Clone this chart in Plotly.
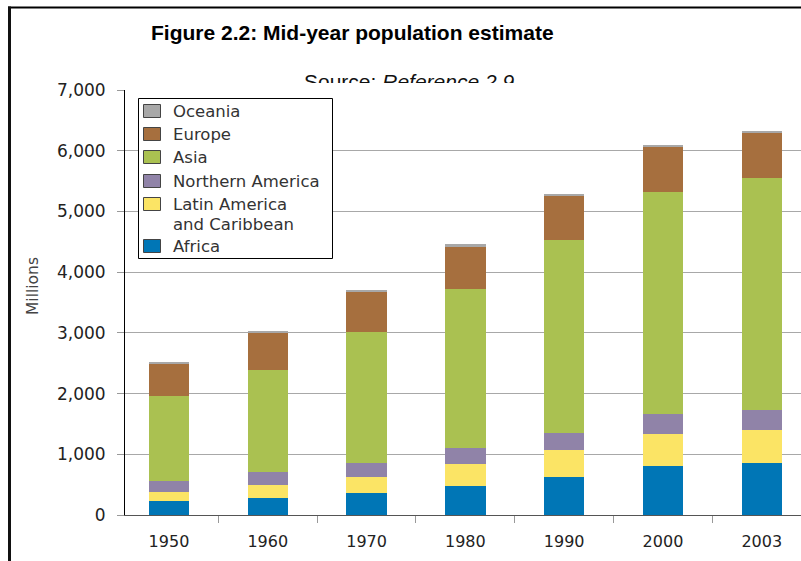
import plotly.graph_objects as go

# ---- data (millions) ----
years = ["1950", "1960", "1970", "1980", "1990", "2000", "2003"]
africa = [224, 280, 358, 479, 627, 808, 863]
latin_america = [160, 220, 274, 358, 440, 524, 535]
northern_america = [168, 210, 231, 263, 286, 329, 335]
asia = [1410, 1683, 2157, 2629, 3173, 3657, 3823]
europe = [540, 620, 660, 700, 730, 740, 736]
oceania = [20, 20, 25, 28, 35, 38, 40]

series_names = ["Africa", "Latin America<br>and Caribbean", "Northern America",
                "Asia", "Europe", "Oceania"]
series_values = [africa, latin_america, northern_america, asia, europe, oceania]
series_colors = ["#0076b6", "#fbe465", "#9083a8", "#aac151", "#a66f3e", "#a8a8a8"]

y_ticks = [0, 1000, 2000, 3000, 4000, 5000, 6000, 7000]

# ---- layout geometry (pixels) ----
W, H = 801, 561
L, T, B = 125, 90, 46
PW, PH = W - L, H - T - B


def px_x(px):
    return (px - L) / PW


def px_y(py):
    return (H - B - py) / PH


xpos = list(range(len(years)))

fig = go.Figure()
for name, vals, col in zip(series_names, series_values, series_colors):
    fig.add_trace(go.Bar(
        x=xpos, y=vals, name=name.replace("<br>", " "), width=0.41, showlegend=False,
        marker=dict(color=col, line=dict(width=0)),
    ))

fig.update_layout(
    width=W, height=H,
    margin=dict(l=L, r=0, t=T, b=B, pad=0),
    barmode="stack",
    paper_bgcolor="white", plot_bgcolor="white",
    font=dict(family="DejaVu Sans", size=16, color="#222"),
    xaxis=dict(
        range=[-0.445, 6.397],
        tickmode="array", tickvals=xpos, ticktext=years,
        ticks="", showgrid=False, zeroline=False,
        showline=True, linecolor="#555", linewidth=1,
        ticklabelstandoff=12,
        minor=dict(tickmode="array", tickvals=[i + 0.5 for i in xpos[:-1]],
                   ticks="outside", ticklen=7, tickcolor="#999", showgrid=False),
        tickfont=dict(family="DejaVu Sans", size=16, color="#222"),
    ),
    yaxis=dict(
        range=[0, 7000], tickmode="array", tickvals=y_ticks,
        tickformat=",d",
        ticks="outside", ticklen=7, tickcolor="#999",
        showline=True, linecolor="#000", linewidth=1,
        showgrid=True, gridcolor="#a8a8a8", gridwidth=1,
        zeroline=False,
        ticklabelstandoff=8,
        tickfont=dict(family="DejaVu Sans", size=17, color="#222"),
    ),
)

annotations = [
    dict(text="<b>Figure 2.2: Mid-year population estimate</b>",
         xref="paper", yref="paper", x=px_x(149), y=px_y(32),
         xanchor="left", yanchor="middle", showarrow=False,
         font=dict(family="Liberation Sans", size=21, color="#000")),
    dict(text="Source: <i>Reference 2.9</i>",
         xref="paper", yref="paper", x=px_x(302), y=px_y(68),
         xanchor="left", yanchor="top", showarrow=False,
         font=dict(family="Liberation Sans", size=21, color="#111")),
    # white cover hiding the lower part of the source line and the top gridline
    dict(text=" ", xref="paper", yref="paper", x=px_x(281), y=px_y(83),
         xanchor="left", yanchor="top", showarrow=False,
         width=520, height=13, bgcolor="white", borderpad=0, borderwidth=0),
    dict(text="Millions", textangle=-90,
         xref="paper", yref="paper", x=px_x(33), y=px_y(286),
         xanchor="center", yanchor="middle", showarrow=False,
         font=dict(family="DejaVu Sans", size=15.5, color="#444")),
]

shapes = [
    dict(type="line", xref="paper", yref="paper",
         x0=px_x(8), x1=px_x(801), y0=px_y(7.5), y1=px_y(7.5),
         line=dict(color="#000", width=2)),
    dict(type="line", xref="paper", yref="paper",
         x0=px_x(9.5), x1=px_x(9.5), y0=px_y(6.5), y1=px_y(561),
         line=dict(color="#111", width=3)),
    # legend frame
    dict(type="rect", xref="paper", yref="paper", layer="above",
         x0=px_x(138.5), x1=px_x(332.5), y0=px_y(98.5), y1=px_y(258.5),
         fillcolor="white", line=dict(color="#000", width=1)),
]

# legend entries (top to bottom: reversed stacking order)
entry_centers = [111, 134, 157, 181, 204, 246]
line_step = 20
for (name, col), yc in zip(list(zip(series_names, series_colors))[::-1], entry_centers):
    shapes.append(dict(type="rect", xref="paper", yref="paper", layer="above",
                       x0=px_x(143.5), x1=px_x(160.5), y0=px_y(yc - 6.5), y1=px_y(yc + 6.5),
                       fillcolor=col, line=dict(color="#444", width=1)))
    for k, part in enumerate(name.split("<br>")):
        annotations.append(dict(text=part, xref="paper", yref="paper",
                                x=px_x(172), y=px_y(yc + k * line_step + 0.5),
                                xanchor="left", yanchor="middle", align="left",
                                showarrow=False, borderpad=0,
                                font=dict(family="DejaVu Sans", size=16.5, color="#333")))

fig.update_layout(annotations=annotations, shapes=shapes)

fig.write_html("out.html")
